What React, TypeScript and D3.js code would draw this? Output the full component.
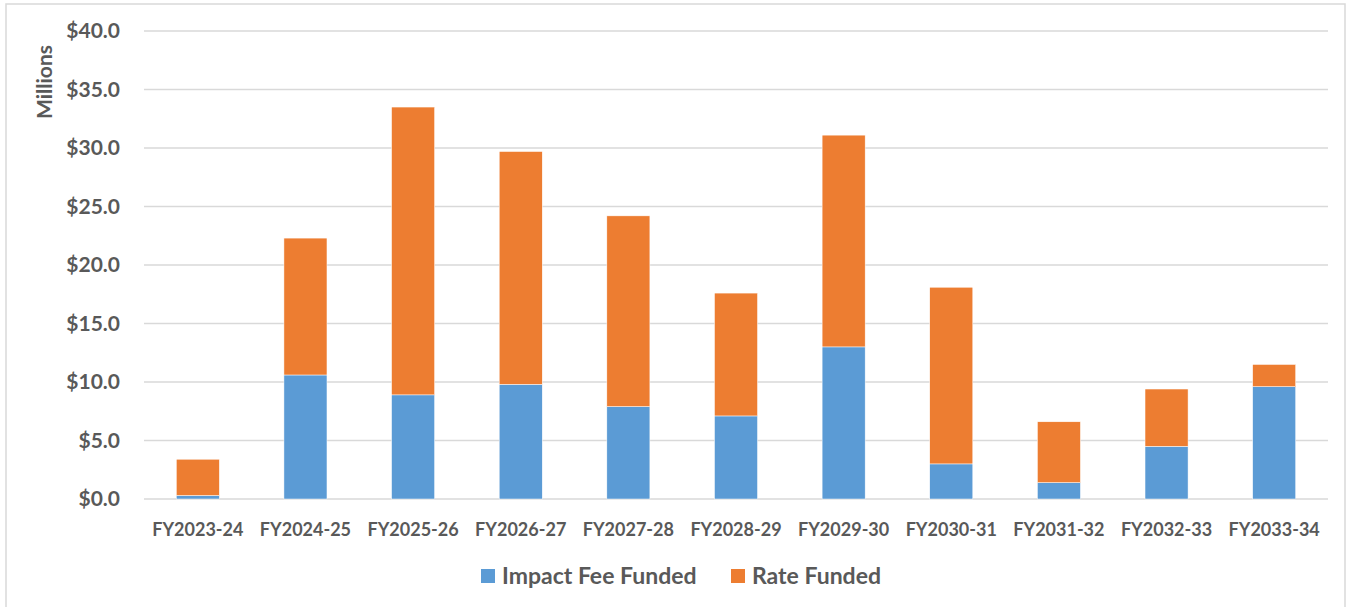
import * as d3 from 'd3';
import React from 'react';

const categories = ['FY2023-24', 'FY2024-25', 'FY2025-26', 'FY2026-27', 'FY2027-28', 'FY2028-29', 'FY2029-30', 'FY2030-31', 'FY2031-32', 'FY2032-33', 'FY2033-34'];
const impactFee = [0.3, 10.6, 8.9, 9.8, 7.9, 7.1, 13.0, 3.0, 1.4, 4.5, 9.6];
const rateFunded = [3.1, 11.7, 24.6, 19.9, 16.3, 10.5, 18.1, 15.1, 5.2, 4.9, 1.9];
const yTicks = [0, 5, 10, 15, 20, 25, 30, 35, 40];
const seriesNames = ['Impact Fee Funded', 'Rate Funded'];
const colors = ['#5B9BD5', '#ED7D31'];

const W = 1349;
const H = 607;
const margin = { top: 31, right: 21, bottom: 108, left: 144 };
const font = 'Lato, "Open Sans", sans-serif';
const textColor = '#595959';

const App: React.FC = () => {
    const innerW = W - margin.left - margin.right;
    const innerH = H - margin.top - margin.bottom;

    const x = d3.scaleBand().domain(categories).range([0, innerW]).paddingInner(0.6).paddingOuter(0.3);
    const y = d3.scaleLinear().domain([0, 40]).range([innerH, 0]);

    const rows = categories.map((c, i) => ({ cat: c, impact: impactFee[i], rate: rateFunded[i] }));
    const stacked = d3.stack<any>().keys(['impact', 'rate'])(rows);

    return (
        <svg width={W} height={H} style={{ position: 'absolute', left: 0, top: 0, background: '#fff' }}>
            <rect x={6} y={4} width={1339} height={620} fill="#fff" stroke="#D9D9D9" strokeWidth={1.5} />
            <g transform={`translate(${margin.left},${margin.top})`}>
                {yTicks.map(t => (
                    <g key={t}>
                        <line x1={0} x2={innerW} y1={y(t)} y2={y(t)} stroke="#D9D9D9" strokeWidth={1.5} />
                        <text x={-24} y={y(t)} dy="0.35em" textAnchor="end" fontFamily={font} fontWeight={700} fontSize={21} fill={textColor}>
                            {d3.format('$.1f')(t)}
                        </text>
                    </g>
                ))}
                {stacked.map((s, si) => (
                    <g key={si} fill={colors[si]}>
                        {s.map((d, i) => (
                            <rect
                                key={i}
                                x={x(categories[i])!}
                                y={y(d[1])}
                                width={x.bandwidth()}
                                height={y(d[0]) - y(d[1])}
                                stroke="#fff"
                                strokeWidth={0.5}
                            />
                        ))}
                    </g>
                ))}
                {categories.map(c => (
                    <text key={c} x={x(c)! + x.bandwidth() / 2} y={innerH + 37} textAnchor="middle" fontFamily={font} fontWeight={700} fontSize={18} fill={textColor}>
                        {c}
                    </text>
                ))}
            </g>
            <text transform={`translate(52,${82}) rotate(-90)`} textAnchor="middle" fontFamily={font} fontWeight={700} fontSize={21} fill={textColor}>
                Millions
            </text>
            <g transform="translate(481,569)">
                <rect x={0} y={0} width={14} height={14} fill={colors[0]} />
                <text x={21} y={7} dy="0.35em" fontFamily={font} fontWeight={700} fontSize={23} fill={textColor}>{seriesNames[0]}</text>
                <rect x={250} y={0} width={14} height={14} fill={colors[1]} />
                <text x={271} y={7} dy="0.35em" fontFamily={font} fontWeight={700} fontSize={23} fill={textColor}>{seriesNames[1]}</text>
            </g>
        </svg>
    );
};

export default App;
